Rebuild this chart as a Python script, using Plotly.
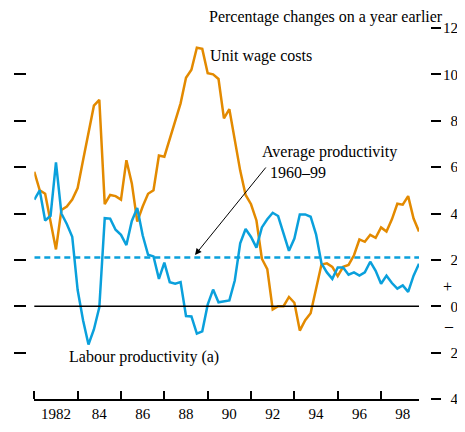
import plotly.graph_objects as go

# Quarterly observations, 1981 Q1 .. 1998 Q4 (decimal-year positions)
start_year = 1981
n_quarters = 72
years = [start_year + i / 4 for i in range(n_quarters)]

unit_wage_costs = [
    5.8, 5.0, 4.85, 3.7, 2.45, 4.15, 4.3, 4.6, 5.1, 6.3, 7.5, 8.65,
    8.9, 4.4, 4.8, 4.75, 4.6, 6.3, 5.3, 3.65, 4.3, 4.85, 5.0, 6.5,
    6.45, 7.2, 7.9, 8.75, 9.85, 10.2, 11.15, 11.1, 10.05, 10.0, 9.8, 8.1,
    8.5, 7.1, 5.85, 4.8, 4.4, 3.7, 2.05, 1.6, -0.14, 0.0, 0.0, 0.4,
    0.15, -1.05, -0.6, -0.3, 0.7, 1.8, 1.85, 1.7, 1.3, 1.7, 1.78, 2.2,
    2.88, 2.78, 3.08, 2.95, 3.4, 3.22, 3.75, 4.42, 4.38, 4.75, 3.78, 3.22,
]

labour_productivity = [
    4.6, 5.0, 3.7, 3.9, 6.2, 4.0, 3.55, 3.0, 0.7, -0.6, -1.65, -1.0,
    -0.05, 3.8, 3.78, 3.3, 3.08, 2.64, 3.68, 4.24, 3.06, 2.22, 2.15, 1.18,
    1.88, 1.04, 0.97, 1.04, -0.42, -0.44, -1.18, -1.08, 0.07, 0.72, 0.17, 0.21,
    0.25, 1.11, 2.71, 3.33, 2.99, 2.53, 3.4, 3.75, 4.03, 3.89, 3.19, 2.39,
    2.92, 3.96, 3.96, 3.86, 3.1, 1.85, 1.46, 1.18, 1.67, 1.67, 1.36, 1.46,
    1.32, 1.46, 1.92, 1.53, 0.97, 1.32, 1.0, 0.76, 0.9, 0.62, 1.32, 1.83,
]

average_productivity = 2.1  # 1960-99 average

x_label_years = [1982, 1984, 1986, 1988, 1990, 1992, 1994, 1996, 1998]
x_tick_labels = ["1982", "84", "86", "88", "90", "92", "94", "96", "98"]
x_tick_marks = [1981, 1983, 1985, 1987, 1989, 1991, 1993, 1995, 1997]

y_tick_vals = [12, 10, 8, 6, 4, 2, 0, -2, -4]
y_tick_text = ["12", "10", "\u20078", "\u20076", "\u20074", "\u20072", "\u20070", "\u20072", "\u20074"]

ORANGE = "#E38A00"
BLUE = "#0AA0DC"
FONT = "Liberation Serif"

W, H = 449, 416
ML, MR, MT, MB = 5, 27, 20, 25
PW, PH = W - ML - MR, H - MT - MB


def px(x):
    return (x - ML) / PW


def py(y):
    return (H - MB - y) / PH


fig = go.Figure()

fig.add_trace(go.Scatter(
    x=[years[0], years[-1]], y=[average_productivity, average_productivity],
    mode="lines", line=dict(color=BLUE, width=2.5, dash="6px,4px"),
    hoverinfo="skip", showlegend=False,
))
fig.add_trace(go.Scatter(
    x=years, y=unit_wage_costs, mode="lines",
    line=dict(color=ORANGE, width=2.5), name="Unit wage costs", showlegend=False,
))
fig.add_trace(go.Scatter(
    x=years, y=labour_productivity, mode="lines",
    line=dict(color=BLUE, width=2.5), name="Labour productivity (a)", showlegend=False,
))

# zero line
fig.add_shape(type="line", xref="x domain", yref="y", x0=0, x1=1, y0=0, y1=0,
              line=dict(color="black", width=1.5))

annotations = [
    dict(text="Percentage changes on a year earlier", x=px(437), y=py(9),
         xanchor="right", yanchor="middle"),
    dict(text="Unit wage costs", x=px(200), y=py(48), xanchor="left", yanchor="middle"),
    dict(text="Average productivity<br>\u00a0\u00a01960\u201399", x=px(252), y=py(154),
         xanchor="left", yanchor="middle", align="left"),
    dict(text="Labour productivity (a)", x=px(59), y=py(348.5), xanchor="left", yanchor="middle"),
    dict(text="+", x=px(439), y=py(278), xanchor="center", yanchor="middle"),
    dict(text="\u2013", x=px(441), y=py(317.5), xanchor="center", yanchor="middle"),
]
for a in annotations:
    a.update(xref="paper", yref="paper", showarrow=False,
             font=dict(family=FONT, size=16, color="black"))
    fig.add_annotation(**a)

# arrow pointing at the average line
fig.add_annotation(xref="paper", yref="paper", x=px(187), y=py(247), text="",
                   showarrow=True, ax=72, ay=-89, arrowhead=2, arrowsize=1.3,
                   arrowwidth=1, arrowcolor="black")

fig.update_layout(
    width=W, height=H,
    margin=dict(l=ML, r=MR, t=MT, b=MB, autoexpand=False),
    plot_bgcolor="white", paper_bgcolor="white",
    font=dict(family=FONT, size=16, color="black"),
    showlegend=False,
    xaxis=dict(
        domain=[px(26.3), px(411)],
        range=[years[0], years[-1]],
        tickvals=x_label_years, ticktext=x_tick_labels, ticks="",
        showline=True, linecolor="black", linewidth=1.5,
        showgrid=False, zeroline=False, automargin=False,
        tickfont=dict(family=FONT, size=15, color="black"),
        minor=dict(tickvals=x_tick_marks, ticks="inside", ticklen=8,
                   tickwidth=1.5, tickcolor="black", showgrid=False),
        anchor="y",
    ),
    yaxis=dict(
        range=[-4, 12], anchor="free", position=0, side="left",
        tickvals=y_tick_vals, ticks="inside", ticklen=12, tickwidth=1.5,
        tickcolor="black", showticklabels=False, showgrid=False,
        zeroline=False, showline=False, automargin=False,
    ),
    yaxis2=dict(
        range=[-4, 12], anchor="free", position=1, side="right", overlaying="y",
        tickvals=y_tick_vals, ticktext=y_tick_text, ticks="outside", ticklen=10,
        tickwidth=1.5, tickcolor="black", showgrid=False, zeroline=False,
        showline=False, automargin=False, ticklabelstandoff=-1,
        tickfont=dict(family=FONT, size=15, color="black"),
    ),
)

# invisible trace to activate the right axis
fig.add_trace(go.Scatter(x=[years[0]], y=[0], yaxis="y2", mode="markers",
                         marker=dict(opacity=0), hoverinfo="skip", showlegend=False))

fig.write_html("out.html")
